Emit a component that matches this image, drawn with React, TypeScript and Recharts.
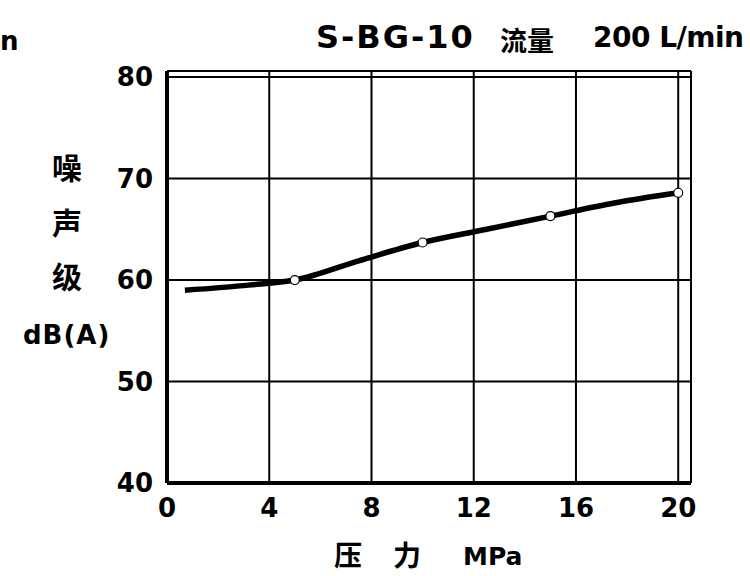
import React from 'react';
import { LineChart, Line, XAxis, YAxis, CartesianGrid } from 'recharts';

const pressure = [0.7, 3.2, 5, 7.5, 10, 12.5, 15, 17.5, 20];
const noise = [59.0, 59.5, 60.0, 61.9, 63.7, 65.0, 66.3, 67.6, 68.6];
const marked = [false, false, true, false, true, false, true, false, true];
const xTicks = [0, 4, 8, 12, 16, 20];
const yTicks = [40, 50, 60, 70, 80];

const data = pressure.map((p, i) => ({ p, v: noise[i], m: marked[i] }));

const font = '"DejaVu Sans", "Liberation Sans", sans-serif';
const cjk = '"Noto Sans CJK SC", sans-serif';

const Dot = (props: any) => {
  const { cx, cy, payload, index } = props;
  if (!payload || !payload.m) return <g key={index} />;
  return <circle key={index} cx={cx} cy={cy} r={4.5} fill="#fff" stroke="#000" strokeWidth={1.2} />;
};

const abs = (x: number, y: number, extra: React.CSSProperties = {}): React.CSSProperties => ({
  position: 'absolute', left: x, top: y, fontWeight: 'bold', color: '#000', whiteSpace: 'nowrap', lineHeight: 1, ...extra,
});

export default function App() {
  return (
    <div style={{ position: 'absolute', left: 0, top: 0, width: 750, height: 576, background: '#fff', overflow: 'hidden' }}>
      <LineChart width={750} height={576} data={data} margin={{ top: 71, right: 59, bottom: 63, left: 107 }}>
        <CartesianGrid stroke="#000" strokeWidth={2} strokeOpacity={1} />
        <XAxis
          dataKey="p"
          type="number"
          domain={[0, 20.5]}
          ticks={xTicks}
          tickLine={false}
          axisLine={{ stroke: '#000', strokeWidth: 4 }}
          tick={{ fill: '#000', fontSize: 26, fontWeight: 'bold', fontFamily: font }}
          tickMargin={10}
          interval={0}
          allowDataOverflow
        />
        <YAxis
          type="number"
          domain={[40, 80.6]}
          ticks={yTicks}
          width={60}
          tickLine={false}
          axisLine={{ stroke: '#000', strokeWidth: 4 }}
          tick={{ fill: '#000', fontSize: 26, fontWeight: 'bold', fontFamily: font }}
          tickMargin={8}
          interval={0}
          allowDataOverflow
        />
        <Line
          dataKey="v"
          type="monotone"
          stroke="#000"
          strokeWidth={5.5}
          dot={<Dot />}
          activeDot={false}
          isAnimationActive={false}
        />
      </LineChart>
      <div style={abs(0, 28, { fontSize: 26, fontFamily: font })}>n</div>
      <div style={abs(316, 21, { fontSize: 32, fontFamily: font, letterSpacing: 2 })}>S-BG-10</div>
      <div style={abs(500, 26, { fontSize: 27, fontFamily: cjk })}>流量</div>
      <div style={abs(593, 24, { fontSize: 28, fontFamily: font, letterSpacing: -0.5 })}>200 L/min</div>
      <div style={abs(52, 151, { fontSize: 30, fontFamily: cjk })}>噪</div>
      <div style={abs(52, 206, { fontSize: 30, fontFamily: cjk })}>声</div>
      <div style={abs(52, 260, { fontSize: 30, fontFamily: cjk })}>级</div>
      <div style={abs(23, 322, { fontSize: 26, fontFamily: font, letterSpacing: 1 })}>dB(A)</div>
      <div style={abs(334, 540, { fontSize: 28, fontFamily: cjk })}>压</div>
      <div style={abs(393, 540, { fontSize: 28, fontFamily: cjk })}>力</div>
      <div style={abs(463, 544, { fontSize: 25, fontFamily: font })}>MPa</div>
    </div>
  );
}
